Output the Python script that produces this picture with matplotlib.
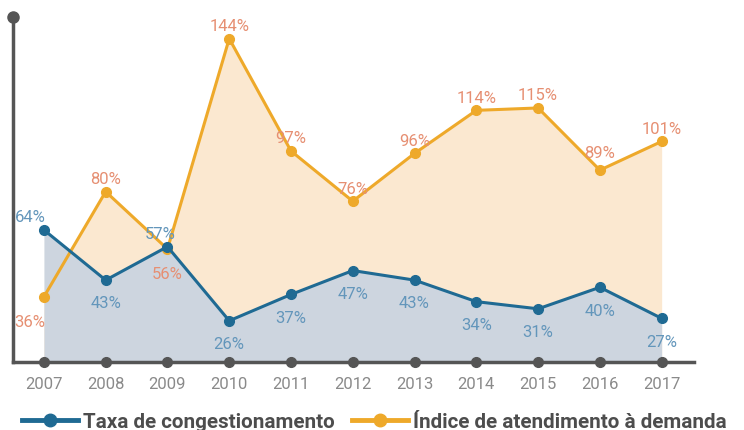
import numpy as np
import matplotlib.pyplot as plt
from matplotlib.lines import Line2D

years = [2007, 2008, 2009, 2010, 2011, 2012, 2013, 2014, 2015, 2016, 2017]
congestion = [64, 43, 57, 26, 37, 47, 43, 34, 31, 40, 27]
attendance = [36, 80, 56, 144, 97, 76, 96, 114, 115, 89, 101]

# label placement: 1 above the point, -1 below
cong_pos = [1, -1, 1, -1, -1, -1, -1, -1, -1, -1, -1]
att_pos = [-1, 1, -1, 1, 1, 1, 1, 1, 1, 1, 1]

blue = '#1f6a93'
blue_fill = '#cdd5df'
blue_txt = '#6396bb'
orange = '#eea92a'
orange_fill = '#fbe8d0'
orange_txt = '#e68f72'
axis_col = '#555555'

ymin, ymax = 8.8, 153
xmin, xmax = 2006.5, 2017.52

fig = plt.figure(figsize=(7.44, 4.31), dpi=100)
ax = fig.add_axes([0.0175, 0.158, 0.915, 0.8])

ax.fill_between(years, attendance, ymin, color=orange_fill, lw=0, zorder=1)
ax.fill_between(years, congestion, ymin, color=blue_fill, lw=0, zorder=2)
ax.plot(years, attendance, color=orange, lw=2.2, marker='o', ms=7, zorder=3)
ax.plot(years, congestion, color=blue, lw=2.2, marker='o', ms=7, zorder=4)

lbl = dict(fontsize=12, fontfamily='Roboto', fontweight='normal')
for x, v, p in zip(years, congestion, cong_pos):
    dy = 4 if p > 0 else -11
    dx = -10 if x == 2007 else (-5 if x == 2009 else 0)
    ax.annotate(f'{v}%', (x, v), xytext=(dx, dy), textcoords='offset points',
                ha='center', va='bottom' if p > 0 else 'top', color=blue_txt, **lbl)
for x, v, p in zip(years, attendance, att_pos):
    dy = 4 if p > 0 else -12
    if x == 2016:
        dy = 7
    dx = -10 if x == 2007 else 0
    ax.annotate(f'{v}%', (x, v), xytext=(dx, dy), textcoords='offset points',
                ha='center', va='bottom' if p > 0 else 'top', color=orange_txt, **lbl)

ax.set_xlim(xmin, xmax)
ax.set_ylim(ymin, ymax)
for s in ['top', 'right']:
    ax.spines[s].set_visible(False)
for s in ['left', 'bottom']:
    ax.spines[s].set_color(axis_col)
    ax.spines[s].set_linewidth(2.5)
    ax.spines[s].set_zorder(5)

ax.set_yticks([])
ax.set_xticks(years)
ax.set_xticklabels([str(y) for y in years], fontfamily='Roboto',
                   fontsize=12, color='#8a8a8a')
ax.tick_params(axis='x', length=0, pad=10)

# dots on the axes
ax.plot(years, [ymin] * len(years), 'o', color=axis_col, ms=7,
        clip_on=False, zorder=6)
ax.plot([xmin], [ymax], 'o', color=axis_col, ms=8, clip_on=False, zorder=6)

handles = [
    Line2D([], [], color=blue, lw=3.5, marker='o', ms=9),
    Line2D([], [], color=orange, lw=3.5, marker='o', ms=9),
]
fig.legend(handles, ['Taxa de congestionamento', 'Índice de atendimento à demanda'],
           loc='lower left', bbox_to_anchor=(0.005, -0.045), ncol=2, frameon=False,
           handlelength=2.7, handletextpad=0.25, columnspacing=0.8,
           prop={'family': 'Roboto', 'weight': 'bold', 'size': 14.9},
           labelcolor='#4d4d4d')

fig.savefig('out.png', dpi=100)
